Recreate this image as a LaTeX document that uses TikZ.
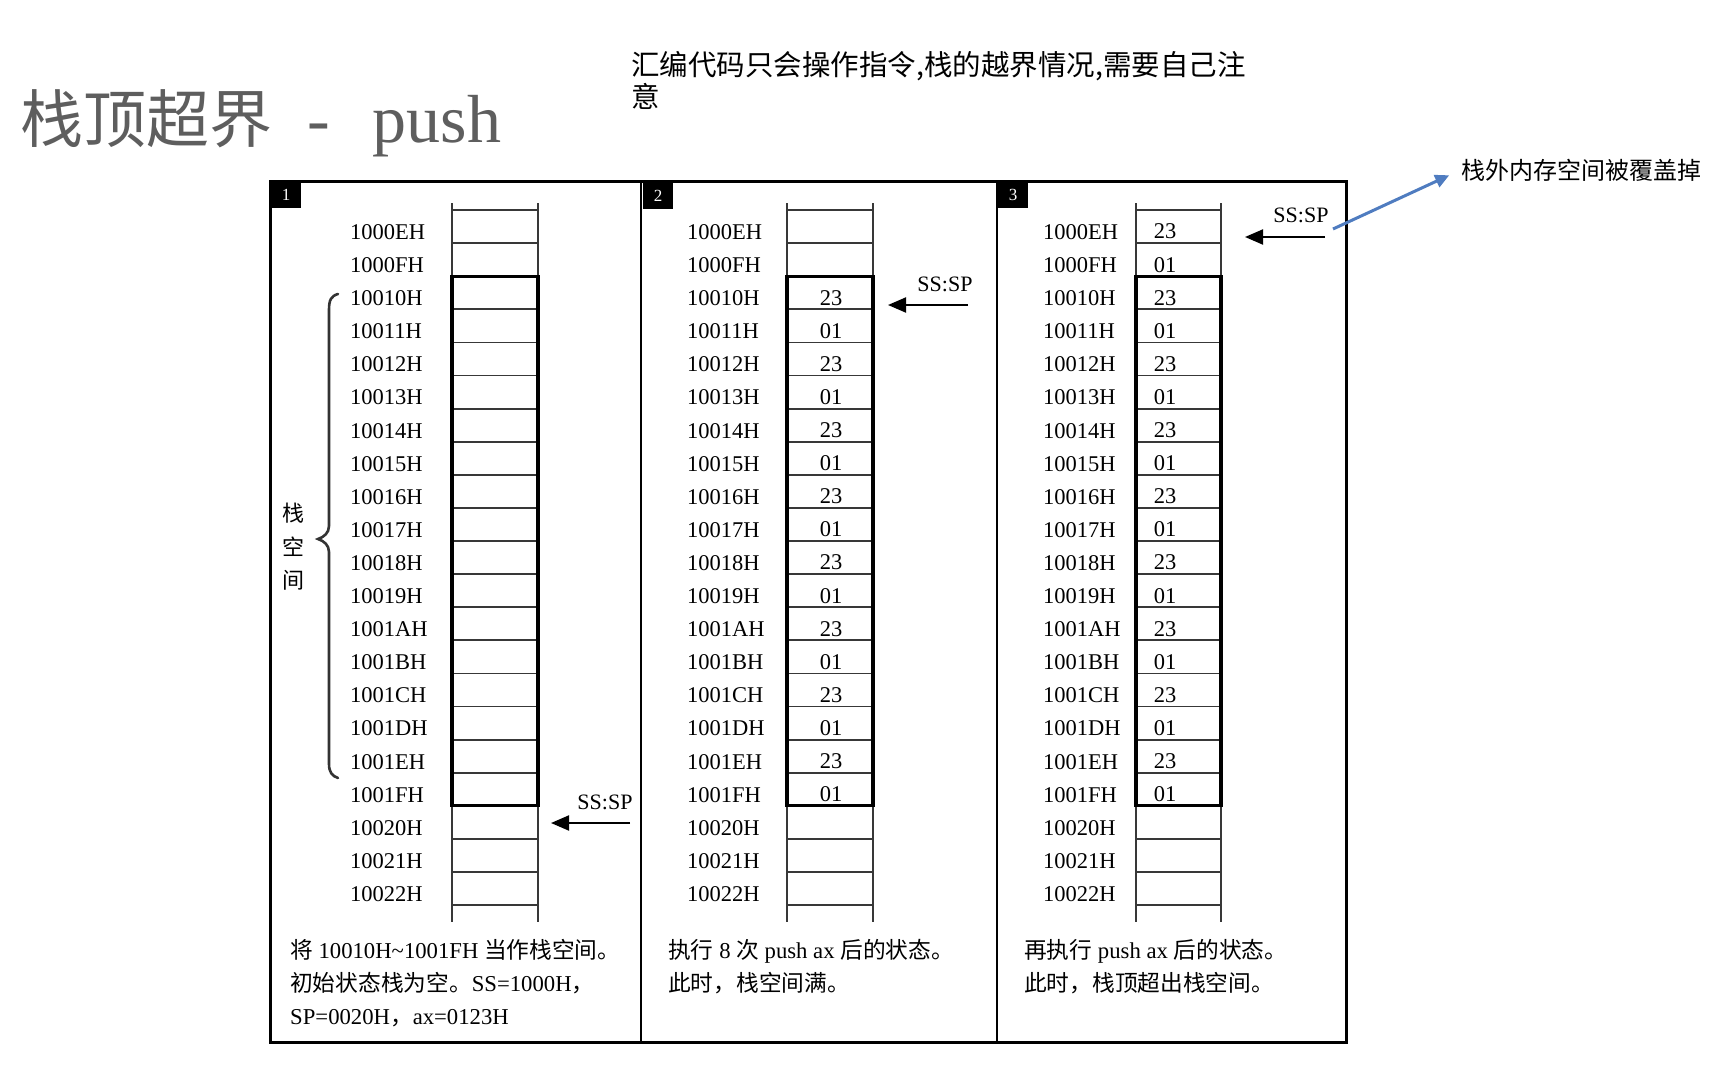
\documentclass[tikz,border=0pt]{standalone}
\usepackage{fontspec}
\setmainfont{Liberation Serif}
\newfontfamily\cjk{Noto Sans CJK SC}
\usetikzlibrary{arrows.meta}
\definecolor{titlegray}{HTML}{5E5E5E}
\definecolor{linkblue}{HTML}{4F7CC0}
\newcommand\drawstack[4]{%
  \foreach \lab [count=\i from 0] in {1000EH,1000FH,10010H,10011H,10012H,10013H,10014H,10015H,10016H,10017H,10018H,10019H,1001AH,1001BH,1001CH,1001DH,1001EH,1001FH,10020H,10021H,10022H}{%
    \node[addr] (#1-\i) at (#2,{215.5+33.1*(\i+0.5)}) {\lab};
  }%
  \foreach \k in {0,...,21}{%
    \draw[cellline] (#3,{210+33.1*\k}) -- (#4,{210+33.1*\k});
  }%
  \draw[cellline] (#3,203) -- (#3,922);
  \draw[cellline] (#4,203) -- (#4,922);
  \draw[stackbox] (#3,{210+33.1*2}) rectangle (#4,{210+33.1*18});
}
\newcommand\fillvalues[3]{%
  \foreach \i in {#2,...,17}{%
    \pgfmathtruncatemacro\odd{mod(\i,2)}%
    \node[val] (#1-v\i) at (#3,{215+33.1*(\i+0.5)}) {\ifnum\odd=1 01\else 23\fi};
  }%
}
\begin{document}
\begin{tikzpicture}[x=1pt,y=-1pt,
  addr/.style={font=\fontsize{22.5}{26}\selectfont, anchor=west, inner sep=0pt},
  val/.style={font=\fontsize{22.5}{26}\selectfont, inner sep=0pt},
  cellline/.style={line width=1.8pt, draw=black!78},
  stackbox/.style={line width=3.2pt, draw=black},
  frameline/.style={line width=3pt, draw=black},
  divline/.style={line width=2.4pt, draw=black},
  numbox/.style={fill=black, text=white, inner sep=0pt, minimum width=30pt, minimum height=26pt, anchor=north west, font=\fontsize{17}{18}\selectfont},
  sptext/.style={font=\fontsize{22}{26}\selectfont, inner sep=0pt},
  sparrow/.style={line width=2pt, -{Triangle[length=18pt,width=15pt]}},
  caption/.style={font=\fontsize{22.7}{33}\selectfont, align=left, anchor=north west, inner sep=0pt},
]
\useasboundingbox (0,0) rectangle (1736,1068);

% title
\node[anchor=base west, inner sep=0pt, text=titlegray] (title) at (20.5,142)
  {{\fontsize{63}{70}\selectfont\cjk 栈顶超界}{\fontsize{68}{70}\selectfont\hspace{34.5pt}-\hspace{43pt}push}};

% top note
\node[anchor=north west, inner sep=0pt, align=left, font=\fontsize{28.5}{32}\selectfont\cjk] (note) at (631,51)
  {汇编代码只会操作指令,栈的越界情况,需要自己注\\意};

% frame and dividers
\draw[frameline] (270,181) rectangle (1346,1042);
\draw[divline] (641,181) -- (641,1042);
\draw[divline] (997,181) -- (997,1042);

% panel numbers
\node[numbox] (n1) at (271,182) {1};
\node[numbox] (n2) at (643,183) {2};
\node[numbox] (n3) at (998,182) {3};

% stacks
\drawstack{pa}{350}{452}{538}
\drawstack{pb}{687}{787}{873}
\drawstack{pc}{1043}{1136}{1221}
\fillvalues{pb}{2}{831}
\fillvalues{pc}{0}{1165}

% brace and label in panel 1
\draw[line width=2.6pt, draw=black!80, line cap=round]
  (338,294) .. controls (331,296) and (329,300) .. (329,310)
  -- (329,526) .. controls (329,533) and (324,537) .. (318,539)
  .. controls (324,541) and (329,545) .. (329,552)
  -- (329,764) .. controls (329,772) and (332,776) .. (338,778);
\node[anchor=north, inner sep=0pt, align=center, font=\fontsize{22}{33.5}\selectfont\cjk] (stk) at (293,503) {栈\\空\\间};

% SS:SP pointers
\node[sptext] (spa) at (605,802) {SS:SP};
\coordinate (spa1) at (630,823);
\coordinate (spa2) at (551,823);
\draw[sparrow] (spa1) -- (spa2);

\node[sptext] (spb) at (945,284) {SS:SP};
\coordinate (spb1) at (968,305);
\coordinate (spb2) at (888,305);
\draw[sparrow] (spb1) -- (spb2);

\node[sptext] (spc) at (1301,215) {SS:SP};
\coordinate (spc1) at (1325,237);
\coordinate (spc2) at (1245,237);
\draw[sparrow] (spc1) -- (spc2);

% blue annotation
\node[anchor=base west, inner sep=0pt, font=\fontsize{24}{28}\selectfont\cjk] (over) at (1461,179) {栈外内存空间被覆盖掉};
\coordinate (bluetail) at (1333,229);
\draw[line width=3pt, draw=linkblue, -{Triangle[length=14pt,width=13pt]}, shorten >=13pt] (bluetail) -- (over.west);

% captions
\node[caption] (capa) at (290,939.5)
  {{\cjk 将} 10010H\textasciitilde 1001FH {\cjk 当作栈空间。}\\{\cjk 初始状态栈为空。}SS=1000H{\cjk ，}\\SP=0020H{\cjk ，}ax=0123H};
\node[caption] (capb) at (668,939.5)
  {{\cjk 执行} 8 {\cjk 次} push ax {\cjk 后的状态。}\\{\cjk 此时，栈空间满。}};
\node[caption] (capc) at (1024,939.5)
  {{\cjk 再执行} push ax {\cjk 后的状态。}\\{\cjk 此时，栈顶超出栈空间。}};
\end{tikzpicture}
\end{document}
